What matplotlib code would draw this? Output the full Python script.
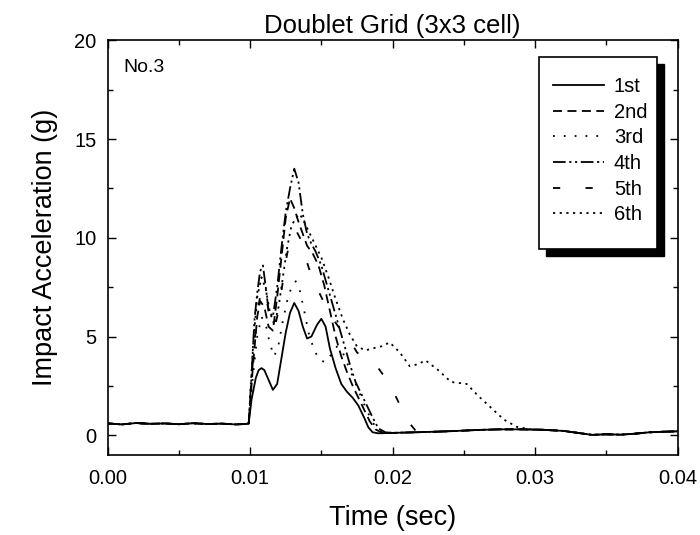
import matplotlib
matplotlib.use("Agg")
import matplotlib.pyplot as plt
from matplotlib.patches import Rectangle
from matplotlib.ticker import MultipleLocator, FormatStrFormatter

plt.rcParams['font.family'] = ['Liberation Sans', 'DejaVu Sans']

# ---- data ----
t_pre = [0.0, 0.001, 0.002, 0.003, 0.004, 0.005, 0.006, 0.007, 0.008, 0.009, 0.0098]
g_pre = [0.60, 0.55, 0.62, 0.58, 0.60, 0.56, 0.61, 0.57, 0.59, 0.55, 0.58]

t_post = [0.0200, 0.0215, 0.0230, 0.0245, 0.0260, 0.0275, 0.0290, 0.0305, 0.0320,
          0.0330, 0.0340, 0.0350, 0.0360, 0.0370, 0.0380, 0.0390, 0.0400]
g_post = [0.12, 0.15, 0.18, 0.22, 0.27, 0.30, 0.30, 0.28, 0.22,
          0.12, 0.02, 0.05, 0.03, 0.08, 0.15, 0.18, 0.20]

t_1st = [0.0099, 0.0101, 0.0104, 0.0106, 0.0108, 0.0110, 0.0113, 0.0116, 0.0119, 0.0122,
         0.0125, 0.0128, 0.0131, 0.0134, 0.0137, 0.0140, 0.0143, 0.0147, 0.0150, 0.0153,
         0.0156, 0.0160, 0.0164, 0.0168, 0.0172, 0.0176, 0.0180, 0.0183, 0.0186, 0.0190]
g_1st = [0.6, 1.8, 2.9, 3.3, 3.4, 3.3, 2.8, 2.3, 2.6, 3.9,
         5.2, 6.2, 6.7, 6.3, 5.5, 4.9, 5.0, 5.6, 5.9, 5.5,
         4.4, 3.4, 2.6, 2.2, 1.9, 1.5, 0.9, 0.4, 0.15, 0.1]

t_2nd = [0.0099, 0.0102, 0.0105, 0.0107, 0.0110, 0.0113, 0.0116, 0.0119, 0.0122, 0.0125,
         0.0128, 0.0131, 0.0134, 0.0137, 0.0140, 0.0144, 0.0148, 0.0152, 0.0156, 0.0160,
         0.0164, 0.0168, 0.0172, 0.0176, 0.0180, 0.0184, 0.0188, 0.0192]
g_2nd = [0.6, 3.5, 6.0, 6.8, 6.5, 5.5, 5.3, 7.0, 9.0, 11.0,
         12.0, 11.5, 10.8, 10.2, 9.6, 9.2, 8.6, 7.6, 6.3, 5.0,
         4.0, 3.2, 2.5, 1.9, 1.3, 0.7, 0.3, 0.15]

t_3rd = [0.0099, 0.0102, 0.0105, 0.0108, 0.0111, 0.0114, 0.0117, 0.0120, 0.0123, 0.0126,
         0.0129, 0.0132, 0.0135, 0.0138, 0.0141, 0.0145, 0.0149, 0.0153, 0.0157, 0.0161,
         0.0165, 0.0169, 0.0173, 0.0177, 0.0181, 0.0185, 0.0189, 0.0193]
g_3rd = [0.6, 3.0, 5.0, 6.0, 5.6, 4.6, 4.0, 4.6, 5.8, 6.8,
         7.5, 7.8, 7.3, 6.3, 5.2, 4.3, 3.8, 3.7, 4.1, 4.5,
         4.2, 3.5, 2.8, 2.1, 1.4, 0.8, 0.3, 0.15]

t_4th = [0.0099, 0.0101, 0.0103, 0.0105, 0.0107, 0.0109, 0.0111, 0.0113, 0.0116, 0.0119,
         0.0122, 0.0125, 0.0128, 0.0131, 0.0134, 0.0137, 0.0140, 0.0143, 0.0146, 0.0150,
         0.0154, 0.0158, 0.0162, 0.0166, 0.0170, 0.0174, 0.0178, 0.0182, 0.0186, 0.0190,
         0.0195]
g_4th = [0.6, 3.0, 5.8, 7.2, 8.3, 8.6, 7.5, 6.3, 6.0, 7.5,
         9.5, 11.3, 12.5, 13.5, 12.8, 11.2, 10.2, 9.7, 9.3, 8.6,
         7.6, 6.6, 5.6, 4.6, 3.6, 2.7, 2.1, 1.5, 0.9, 0.35,
         0.15]

t_5th = [0.0099, 0.0102, 0.0105, 0.0108, 0.0111, 0.0114, 0.0117, 0.0120, 0.0123, 0.0126,
         0.0129, 0.0132, 0.0135, 0.0138, 0.0142, 0.0146, 0.0150, 0.0154, 0.0158, 0.0162,
         0.0166, 0.0170, 0.0175, 0.0180, 0.0185, 0.0190, 0.0195, 0.0200, 0.0204, 0.0208,
         0.0212, 0.0216, 0.0220]
g_5th = [0.6, 3.8, 6.2, 7.4, 7.0, 6.0, 5.4, 6.3, 7.8, 9.2,
         10.0, 10.4, 10.0, 9.2, 8.3, 7.6, 7.0, 6.4, 5.9, 5.5,
         5.2, 4.8, 4.2, 3.9, 3.7, 3.4, 2.9, 2.3, 1.7, 1.1,
         0.6, 0.25, 0.15]

t_6th = [0.0099, 0.0102, 0.0105, 0.0108, 0.0111, 0.0114, 0.0117, 0.0120, 0.0123, 0.0126,
         0.0129, 0.0132, 0.0135, 0.0138, 0.0142, 0.0146, 0.0150, 0.0155, 0.0160, 0.0165,
         0.0170, 0.0175, 0.0181, 0.0186, 0.0192, 0.0198, 0.0205, 0.0212, 0.0218, 0.0223,
         0.0232, 0.0241, 0.0252, 0.0260, 0.0269, 0.0278, 0.0287, 0.0297]
g_6th = [0.6, 4.5, 7.0, 8.0, 7.4, 6.2, 5.6, 6.5, 8.0, 9.5,
         10.6, 11.0, 11.2, 10.8, 10.2, 9.6, 9.0, 8.0, 6.9, 5.9,
         5.1, 4.5, 4.3, 4.4, 4.5, 4.7, 4.2, 3.5, 3.6, 3.8,
         3.3, 2.7, 2.6, 2.0, 1.4, 0.8, 0.43, 0.3]

labels = ['1st', '2nd', '3rd', '4th', '5th', '6th']
t_list = [t_1st, t_2nd, t_3rd, t_4th, t_5th, t_6th]
g_list = [g_1st, g_2nd, g_3rd, g_4th, g_5th, g_6th]
styles = ['-', (0, (5, 3)), (0, (1, 5)), (0, (7, 2, 1.2, 2, 1.2, 2)), (0, (4, 14)), (0, (1.2, 2.5))]

fig = plt.figure(figsize=(7.0, 5.35), dpi=100)
ax = fig.add_axes([0.1537, 0.1495, 0.8143, 0.775])

for lab, tt, gg, ls in zip(labels, t_list, g_list, styles):
    t_end = tt[-1]
    post_t = [x for x in t_post if x > t_end]
    post_g = [g_post[i] for i, x in enumerate(t_post) if x > t_end]
    ax.plot(t_pre + tt + post_t, g_pre + gg + post_g, color='black', lw=1.3,
            linestyle=ls, label=lab)

ax.set_xlim(0.0, 0.04)
ax.set_ylim(-1, 20)
ax.xaxis.set_major_locator(MultipleLocator(0.01))
ax.xaxis.set_minor_locator(MultipleLocator(0.005))
ax.yaxis.set_major_locator(MultipleLocator(5))
ax.yaxis.set_minor_locator(MultipleLocator(2.5))
ax.xaxis.set_major_formatter(FormatStrFormatter('%.2f'))
ax.tick_params(which='both', direction='in', top=True, right=True, labelsize=14.5)
ax.tick_params(axis='x', pad=10)
ax.tick_params(axis='y', pad=8)
ax.tick_params(which='major', length=6, width=1)
ax.tick_params(which='minor', length=3.5, width=1)
for s in ax.spines.values():
    s.set_linewidth(1.2)

ax.set_title('Doublet Grid (3x3 cell)', fontsize=18.5, pad=5)
ax.set_xlabel('Time (sec)', fontsize=19.5, labelpad=12)
ax.set_ylabel('Impact Acceleration (g)', fontsize=19.5, labelpad=12)
ax.text(0.027, 0.935, 'No.3', transform=ax.transAxes, fontsize=14, va='center', ha='left')

# legend frame box (axes coords) with black drop shadow
bx0, by0, bx1, by1 = 0.757, 0.497, 0.964, 0.961
dx = 7 / ax.bbox.width
dy = 7 / ax.bbox.height
ax.add_patch(Rectangle((bx0 + dx, by0 - dy), bx1 - bx0, by1 - by0, transform=ax.transAxes,
                       facecolor='black', edgecolor='black', zorder=5, clip_on=False))
ax.add_patch(Rectangle((bx0, by0), bx1 - bx0, by1 - by0, transform=ax.transAxes,
                       facecolor='white', edgecolor='black', lw=1.2, zorder=5.5, clip_on=False))

leg = ax.legend(loc='center', bbox_to_anchor=((bx0 + bx1) / 2 + 0.004, (by0 + by1) / 2 + 0.005),
                fontsize=14.5, frameon=False,
                handlelength=2.5, handletextpad=0.5, labelspacing=0.33,
                borderpad=0.2, borderaxespad=0)
leg.set_zorder(6)

fig.savefig('out.png', dpi=100)
